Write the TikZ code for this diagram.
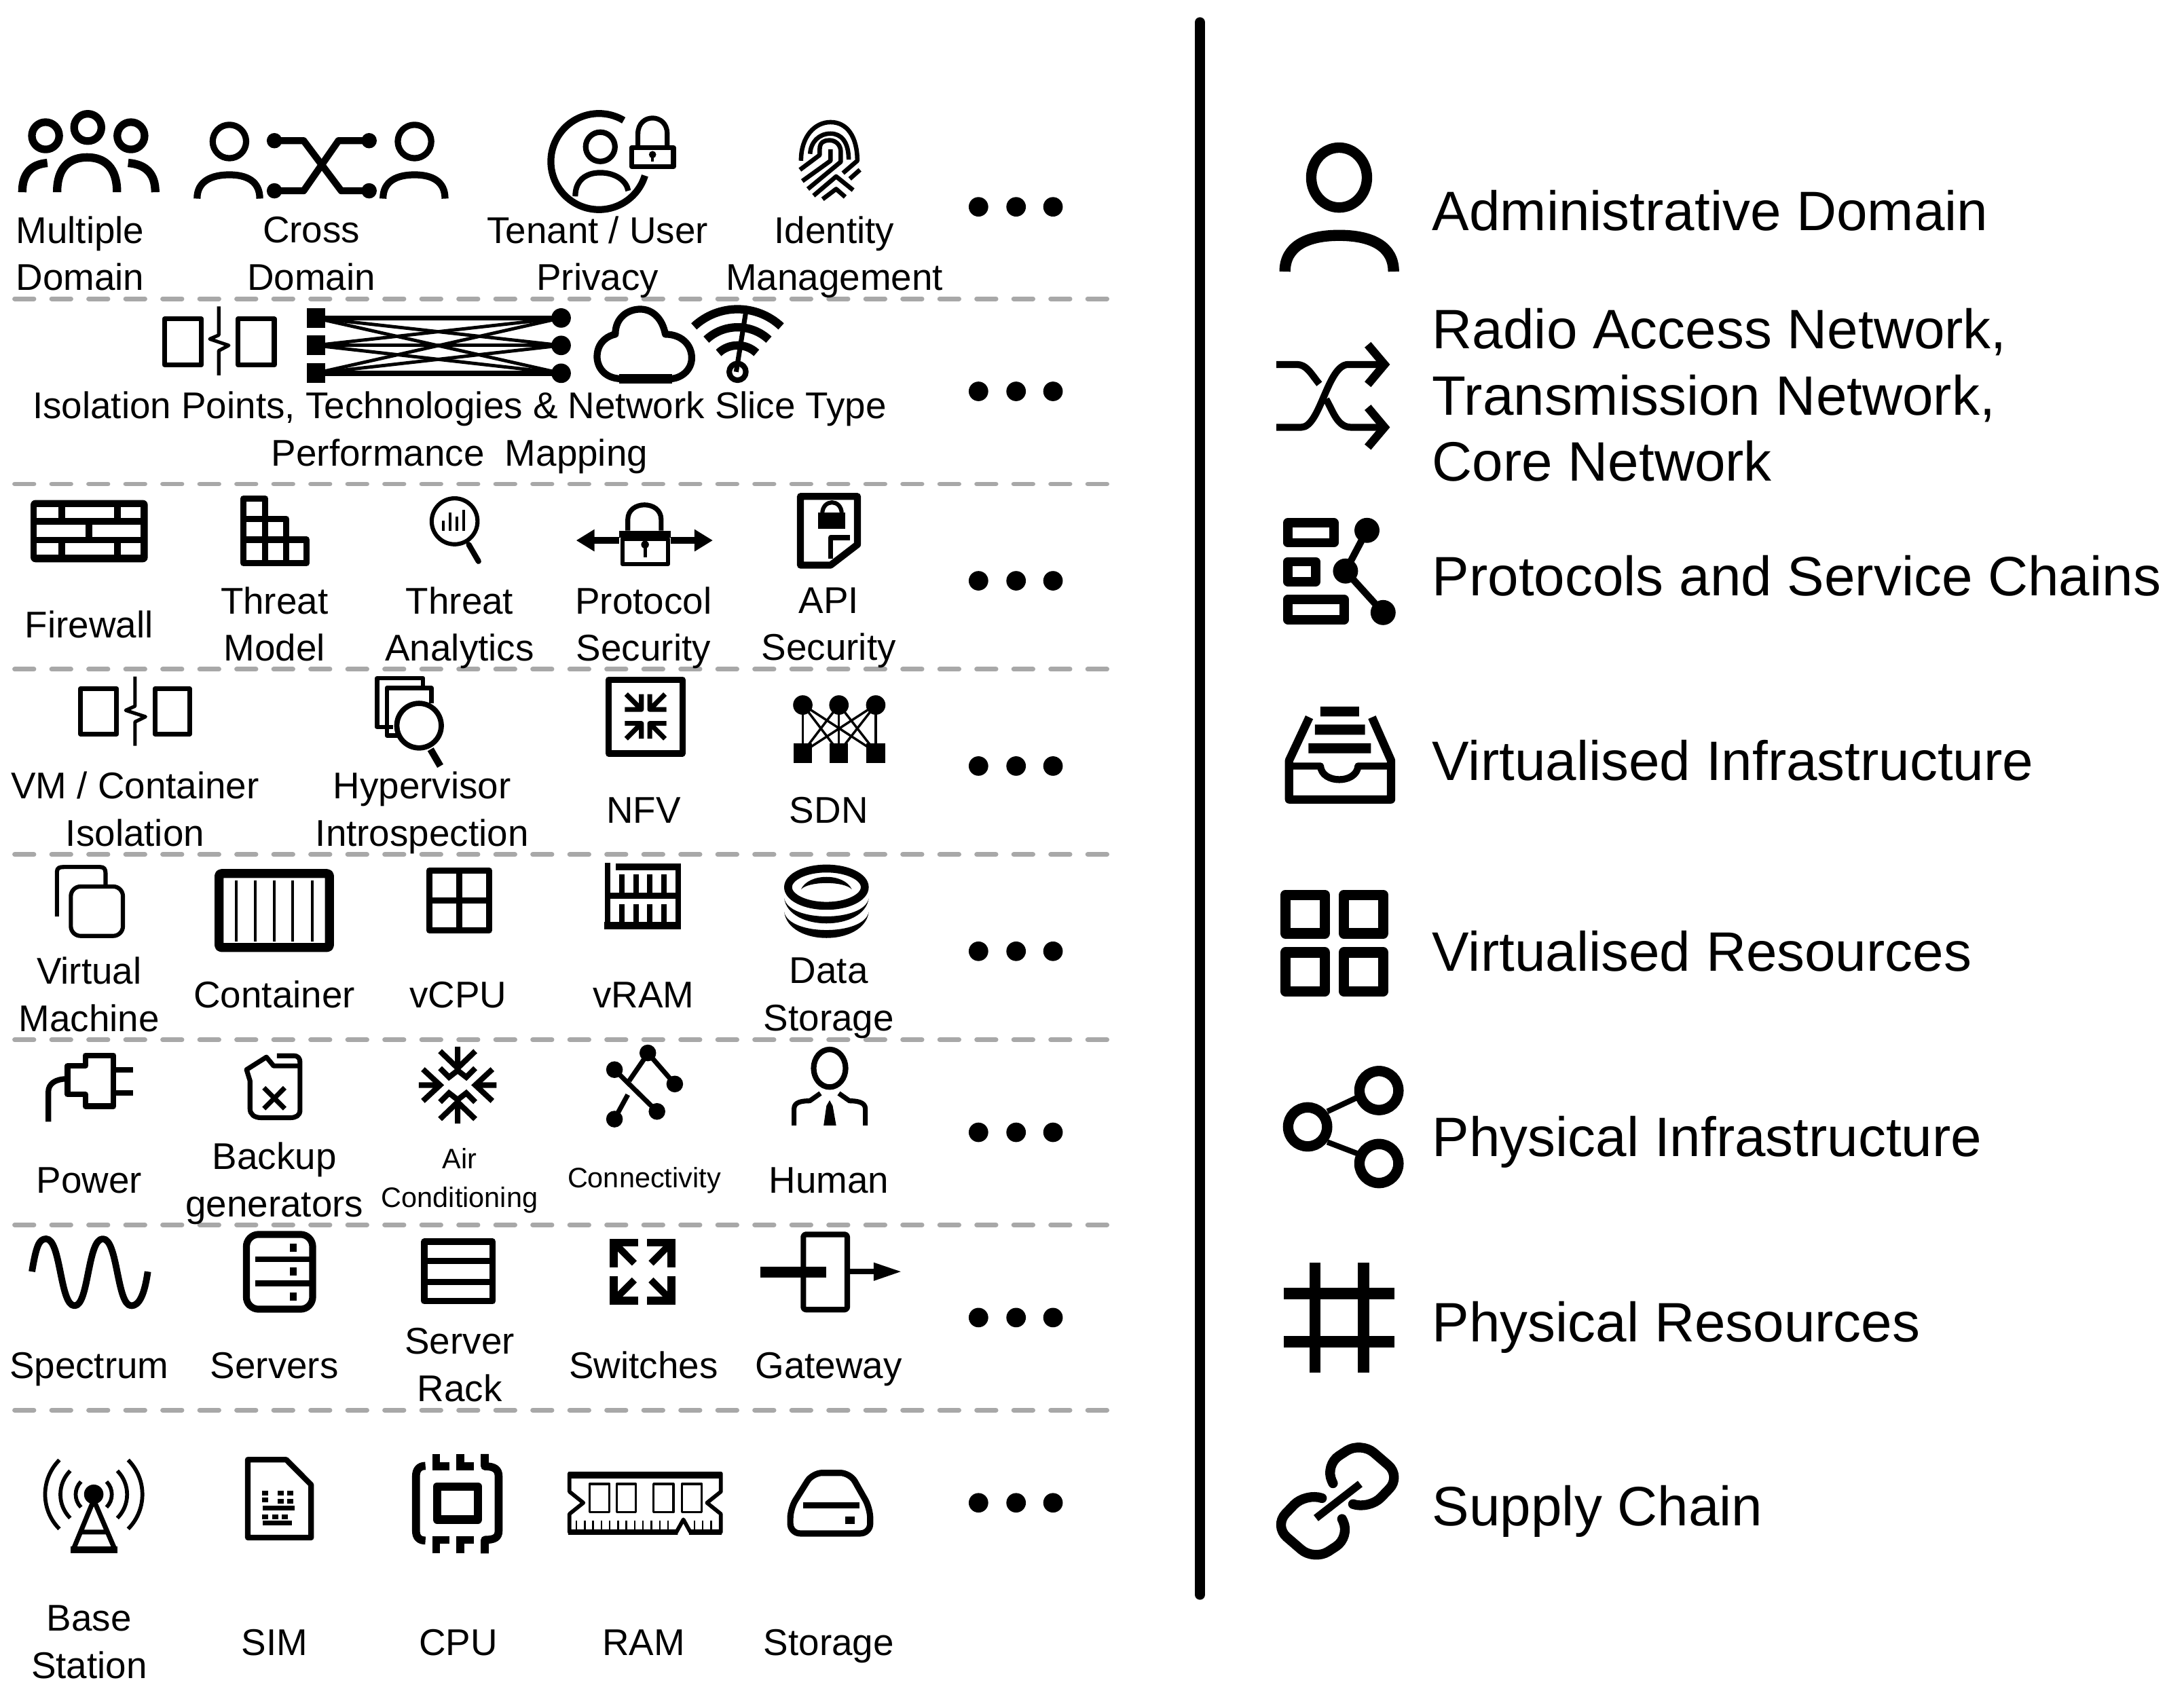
\documentclass[tikz,border=0pt]{standalone}
\usepackage{fontspec}
\setmainfont{Liberation Sans}
\tikzset{
  ink/.style={line width=#1*0.5669pt},
  lab/.style={font=\fontsize{15.2}{19.3}\selectfont,align=center,inner sep=0pt,yshift=-1.7pt,
              execute at begin node=\strut,execute at end node=\strut},
  smalllab/.style={lab,font=\fontsize{11.5}{15.9}\selectfont},
  biglab/.style={font=\fontsize{22.7}{27}\selectfont,align=left,anchor=west,inner sep=0pt,yshift=-2.83pt,
              execute at begin node=\strut,execute at end node=\strut},
  sep/.style={draw=black!34,line width=1.9pt,line cap=round,dash pattern=on 7.9pt off 7.22pt},
}
\begin{document}
\begin{tikzpicture}[x=0.02cm,y=-0.02cm,line join=round]
\useasboundingbox (0,0) rectangle (1568,1214);

\foreach \y in {214.5,347.5,480.5,613.5,746.5,879.5,1012.5}
  \draw[sep] (10.5,\y) -- (798,\y);
\foreach \y in {148.5,281,417,550,683,813,946,1079}
  \foreach \x in {702.5,729.5,756}
    \fill (\x,\y) circle[radius=7];
\draw[ink=7.3,line cap=round] (861.5,16) -- (861.5,1145);

% labels
\node[lab] (multi) at (57.5,184) {Multiple\\Domain};
\node[lab] (cross) at (223.5,184) {Cross\\Domain};
\node[lab] (tenant) at (429,184) {Tenant / User\\Privacy};
\node[lab] (identity) at (599,184) {Identity\\Management};
\node[lab] (slice) at (330,310) {Isolation Points, Technologies \& Network Slice Type\\Performance\ \ Mapping};
\node[lab] (firewall) at (64,448) {Firewall};
\node[lab] (tmodel) at (197,450) {Threat\\Model};
\node[lab] (tanalytics) at (330,450) {Threat\\Analytics};
\node[lab] (protsec) at (462,450) {Protocol\\Security};
\node[lab] (apisec) at (595,450) {API\\Security};
\node[lab] (vmiso) at (97,583) {VM / Container\\Isolation};
\node[lab] (hyper) at (303,583) {Hypervisor\\Introspection};
\node[lab] (nfv) at (462,581) {NFV};
\node[lab] (sdn) at (595,581) {SDN};
\node[lab] (vm) at (64,716) {Virtual\\Machine};
\node[lab] (contain) at (197,714) {Container};
\node[lab] (vcpu) at (329,714) {vCPU};
\node[lab] (vram) at (462,714) {vRAM};
\node[lab] (datastore) at (595,716) {Data\\Storage};
\node[lab] (power) at (64,847) {Power};
\node[lab] (backup) at (197,849) {Backup\\generators};
\node[smalllab] (air) at (330,847) {Air\\Conditioning};
\node[smalllab] (conn) at (462.5,844) {Connectivity};
\node[lab] (human) at (595,847) {Human};
\node[lab] (spectrum) at (64,980) {Spectrum};
\node[lab] (servers) at (197,980) {Servers};
\node[lab] (rack) at (330,982) {Server\\Rack};
\node[lab] (switches) at (462,980) {Switches};
\node[lab] (gateway) at (595,980) {Gateway};
\node[lab] (base) at (64,1181) {Base\\Station};
\node[lab] (sim) at (197,1179) {SIM};
\node[lab] (cpu) at (329,1179) {CPU};
\node[lab] (ram) at (462,1179) {RAM};
\node[lab] (storage) at (595,1179) {Storage};

\node[biglab] (admin) at (1028,151) {Administrative Domain};
\node[biglab] (ran) at (1028,285.5) {Radio Access Network,\\Transmission Network,\\Core Network};
\node[biglab] (chains) at (1028,413) {Protocols and Service Chains};
\node[biglab] (vinfra) at (1028,546) {Virtualised Infrastructure};
\node[biglab] (vres) at (1028,683) {Virtualised Resources};
\node[biglab] (pinfra) at (1028,816) {Physical Infrastructure};
\node[biglab] (pres) at (1028,949) {Physical Resources};
\node[biglab] (supply) at (1028,1081) {Supply Chain};

% row 1
\draw[ink=5.5] (63,91.5) circle[radius=9.8] (32.7,97.5) circle[radius=9.8] (94,97.5) circle[radius=9.8];
\draw[ink=6] (41,138) .. controls (41,120) and (50,113) .. (62.5,113) .. controls (75,113) and (84,120) .. (84,138);
\draw[ink=6] (16,138) .. controls (16,125) and (22,118) .. (34,117);
\draw[ink=6] (111.5,138) .. controls (111.5,125) and (105,118) .. (92,117);

\draw[ink=4.5] (164.7,101.6) circle[radius=12] (297.6,101.6) circle[radius=12];
\draw[ink=5] (141.5,142.6) .. controls (141.5,130) and (152,125.5) .. (164.7,125.5) .. controls (177,125.5) and (186.5,130) .. (186.5,142.6);
\draw[ink=5] (275,142.6) .. controls (275,130) and (285,125.5) .. (297.6,125.5) .. controls (310,125.5) and (319.5,130) .. (319.5,142.6);
\draw[ink=5] (197,101) -- (218,101) -- (245,137) -- (265,137);
\draw[ink=5] (265,101) -- (243,101) -- (218,137) -- (197,137);
\foreach \x/\y in {197/101,265/101,197/137,265/137}
  \fill (\x,\y) circle[radius=5.5];

\draw[ink=5] ([shift={(-59:34.5)}]430,116) arc[start angle=-59,end angle=-343,radius=34.5];
\draw[ink=4] (431,105.4) circle[radius=10.5];
\draw[ink=4] (413,141) .. controls (413,130) and (420,124) .. (431,124) .. controls (442,124) and (450,130) .. (451,137);
\draw[ink=3.5] (453.5,106) rectangle (483.5,119.5);
\draw[ink=3.5] (458,106) -- (458,96) .. controls (458,81) and (479,81) .. (479,96) -- (479,106);
\fill (468.5,111) circle[radius=2.6];
\draw[ink=2] (468.5,111) -- (468.5,116);

\begin{scope}[ink=3.2]
  \draw (575.1,115.4) .. controls (575,98) and (585,87.7) .. (596.3,87.7) .. controls (608,87.7) and (615.5,98) .. (615.5,115.4) -- (605.2,124.3);
  \draw (581.6,110.5) .. controls (582,102) and (588,95.9) .. (596.3,95.9) .. controls (604,95.9) and (609.3,102) .. (609.3,114.6);
  \draw (574.3,121.9) -- (588.5,111.3) -- (588.5,107) .. controls (588.5,102) and (592,100.7) .. (595.4,100.7) .. controls (600,100.7) and (603.6,104) .. (603.6,108.9) -- (603.6,116.2) -- (580,135.7);
  \draw (576,130) -- (596.3,115.4) -- (596.3,107.2);
  \draw (584.1,140.5) -- (600.3,126.7) -- (612.5,136.5);
  \draw (590.6,143) -- (600.3,135.7) -- (606.8,141.4);
  \draw (610.1,128.4) -- (617.4,121.9);
\end{scope}

\begin{scope}[xscale=0.9972]
% row 2
\draw[ink=3.5] (118.5,229) rectangle (145,262);
\draw[ink=3.5] (171.5,229) rectangle (197.5,262);
\draw[ink=2.5] (157.5,220) -- (157.5,240.6) -- (151,243.4) -- (164.7,248) -- (157.5,251.8) -- (157.5,269.5);

\foreach \a in {228.3,248,268}{
  \foreach \b in {228.3,248,268}
    \draw[ink=2.4] (227,\a) -- (404,\b);
  \fill (221,\a-7) rectangle (234,\a+7);
  \fill (404,\a) circle[radius=7];
}
\draw[ink=3.6] (227,228.3) -- (404,228.3) (227,268) -- (404,268);

\draw[ink=5] (448,272) .. controls (434,272) and (429,262) .. (430,254) .. controls (431,245) and (438,241) .. (443,240)
  .. controls (443,228) and (452,222) .. (461,222) .. controls (470,222) and (477,229) .. (479,240)
  .. controls (490,240) and (498,247) .. (498,257) .. controls (498,266) and (490,272) .. (482,272) -- cycle;
\draw[ink=7] (446,272) -- (484,272);
\foreach \r in {46,33,20}
  \draw[ink=6] ([shift={(-133:\r)}]531,268) arc[start angle=-133,end angle=-47,radius=\r];
\draw[ink=4] (531,267) circle[radius=6];
\draw[ink=3.5] (530,267) -- (537,224);

% row 3
\fill[rounded corners=2] (22,359) rectangle (106.4,403.7);
\foreach \a/\b/\c/\d in {26.6/364/42/372,47/364/82/372,87/364/101.3/372,26.6/377/61.4/385.4,66.5/377/101.3/385.4,26.6/390/42/398,47/390/82/398,87/390/101.3/398}
  \fill[white] (\a,\b) rectangle (\c,\d);

\draw[ink=4.5] (175.2,358) rectangle (191,404.2) (191,372.5) rectangle (206,404.2) (206,387.5) rectangle (220.8,404.2);
\draw[ink=4.5] (175.2,372.5) -- (191,372.5) (175.2,387.5) -- (220.8,387.5);

\draw[ink=3] (327.3,374.3) circle[radius=16.5];
\draw[ink=4,line cap=round] (337.5,391) -- (344.5,403);
\draw[ink=2] (319,381) -- (319,374) (324,381) -- (324,368) (329,381) -- (329,371) (334,381) -- (334,366);

\draw[ink=3] (448,387) rectangle (481,405);
\fill (446,381) rectangle (483,386);
\draw[ink=3.5] (452,381) -- (452,373) .. controls (452,359) and (476,359) .. (476,373) -- (476,381);
\fill (464.4,391) circle[radius=2.8];
\draw[ink=2.4] (464.4,391) -- (464.4,400);
\draw[ink=5] (420,388) -- (446,388) (483,388) -- (508,388);
\fill (415,388) -- (428,380) -- (428,396) -- cycle (513,388) -- (500,380) -- (500,396) -- cycle;

\draw[ink=5] (576.3,356.4) -- (617.3,356.4) -- (617.3,391) -- (598,405.8) -- (576.3,405.8) -- cycle;
\fill (589,368) rectangle (608.6,379.5);
\draw[ink=3] (592,369) .. controls (592,358) and (606,358) .. (606,369);
\draw[ink=3.5] (598,401) -- (598,386) -- (612,386);

% row 4
\draw[ink=3.5] (58,494.5) rectangle (84,527);
\draw[ink=3.5] (111.5,494.5) rectangle (136.5,527);
\draw[ink=2.5] (97.2,485.7) -- (97.2,507) -- (90.5,510) -- (104.8,514.6) -- (97.2,518.3) -- (97.2,535.5);

\draw[ink=3.2] (283,522) -- (271.5,522) -- (271.5,487) -- (304.5,487) -- (304.5,493);
\draw[ink=3.2] (286,528) -- (278.5,528) -- (278.5,494) -- (310.5,494) -- (310.5,505);
\draw[ink=3.8] (301.7,521) circle[radius=16];
\draw[ink=5] (310,538) -- (317,550);

\draw[ink=4.5] (438.2,488) rectangle (491.3,541);
\foreach \a/\b in {1/1,1/-1,-1/1,-1/-1}{
  \begin{scope}[shift={(464.8,514.4)},xscale=\a,yscale=\b]
    \draw[ink=3.5] (15,5) -- (3,5) -- (3,16) (3,5) -- (14,16);
  \end{scope}
}

\foreach \a in {578,604,630.5}{
  \foreach \b in {578,604,630.5}
    \draw[ink=1.7] (\a,506) -- (\b,540);
  \fill (\a,506.2) circle[radius=7];
  \fill (\a-6.7,533.9) rectangle (\a+6.7,547.6);
}

% row 5
\draw[ink=3] (41,658) -- (41,626) .. controls (41,623) and (43,622.5) .. (46,622.5) -- (72,622.5) .. controls (75,622.5) and (76,624) .. (76,627) -- (76,635);
\draw[ink=3,rounded corners=4] (51,636.5) rectangle (88.5,672);

\draw[ink=6.5,rounded corners=1] (157.7,627.2) rectangle (237.2,680.3);
\foreach \x in {170.3,184,197.4,210.7,225}
  \draw[ink=2] (\x,632) -- (\x,676);

\draw[ink=4.5] (309,625) rectangle (352,668);
\draw[ink=4.5] (330.5,625) -- (330.5,668) (309,646.5) -- (352,646.5);

\draw[ink=4.1] (437.4,619.4) -- (437.4,667) (488.2,621) -- (488.2,667);
\draw[ink=5] (443.5,622.3) -- (490.3,622.3) (435.1,664.6) -- (490.3,664.6);
\draw[ink=4] (437.4,643.1) -- (488.2,643.1);
\foreach \x in {447.6,457.8,467.9,478.1}
  \draw[ink=4] (\x,628) -- (\x,643) (\x,649) -- (\x,663);

\draw[ink=5.7] (595,637) ellipse[x radius=27.6,y radius=13.4];
\fill (576.7,638.6) .. controls (582,626.6) and (608,626.6) .. (613.3,638.6) .. controls (608,632.5) and (582,632.5) .. (576.7,638.6) -- cycle;
\fill (564.6,645) .. controls (568,662.3) and (622,662.3) .. (625.5,645) .. controls (622,669) and (568,669) .. (564.6,645) -- cycle;
\fill (564.6,654.8) .. controls (568,672.1) and (622,672.1) .. (625.5,654.8) .. controls (622,679.7) and (568,679.7) .. (564.6,654.8) -- cycle;

% row 6
\draw[ink=4] (34.8,805.4) -- (34.8,784) .. controls (34.8,778) and (40,774.6) .. (48.6,774.6);
\draw[ink=4] (81.8,757.8) -- (61.4,757.8) -- (61.4,765.3) -- (48.6,765.3) -- (48.6,785.8) -- (61.4,785.8) -- (61.4,794.2) -- (81.8,794.2) -- cycle;
\draw[ink=4] (81.8,768) -- (96,768) (81.8,784.9) -- (96,784.9);

\draw[ink=3.5] (199.4,758) -- (211,758) .. controls (215,758) and (216,760) .. (216,763) -- (216,797) .. controls (216,801) and (213,802.5) .. (209,802.5)
  -- (188,802.5) .. controls (183,802.5) and (180,800) .. (180,796) -- (180,776) -- (177.5,768) -- (191.8,759) -- (197,765.3) -- (216,765.3);
\draw[ink=3.5] (190,781) -- (205,796) (205,781) -- (190,796);

\foreach \a in {1,-1}{
  \begin{scope}[shift={(329.5,779.1)},yscale=\a,xscale=\a,line join=miter]
    \draw[ink=4] (0,-27.6) -- (0,-9) (-12.7,-24.4) -- (0,-12.2) -- (12.7,-24.4);
    \draw[ink=4] (-12.7,-12.2) -- (-6.2,-5.7) -- (0,-10.5) -- (6.2,-5.7) -- (12.7,-12.2);
    \draw[ink=4] (-28,0) -- (-12,0) (-25,-11.4) -- (-12.7,0) -- (-25,11.4);
  \end{scope}
}

\draw[ink=3.5] (466.4,756) -- (485.8,778.3) (442.4,768) -- (473,798);
\draw[ink=3.5] (464,760) -- (453,776) (442.4,803.5) -- (452,786);
\foreach \x/\y in {466.4/756,442.4/768,485.8/778.3,473/798,442.4/803.5}
  \fill (\x,\y) circle[radius=6];

\draw[ink=4] (597.3,767) ellipse[x radius=11.5,y radius=13.5];
\draw[ink=3.5] (571.7,808) -- (571.7,796) .. controls (571.7,791) and (578,790.4) .. (583,790.4) -- (590.7,785);
\draw[ink=3.5] (623,808) -- (623,796) .. controls (623,791) and (616,790.4) .. (611.6,790.4) -- (603.9,785);
\fill (597.3,790) -- (599.5,794) -- (602,808) -- (593,808) -- (595,794) -- cycle;

% row 7
\draw[ink=4.8] (23,913) .. controls (26,895) and (28,889.5) .. (33.2,889.5) .. controls (44,889.5) and (43,937.5) .. (53.7,937.5)
  .. controls (64,937.5) and (63,889.5) .. (74,889.5) .. controls (85,889.5) and (84,937.5) .. (94.6,937.5) .. controls (100,937.5) and (104,930) .. (106.4,913);

\draw[ink=5,rounded corners=5] (177.4,886.3) rectangle (225.1,940);
\draw[ink=4] (184,904.3) -- (227,904.3) (184,921.4) -- (227,921.4);
\foreach \y in {895.7,912.8,931}
  \fill (208.7,\y-3) rectangle (213.7,\y+3);

\draw[ink=4.5] (305.5,891.5) rectangle (354.8,934.2);
\draw[ink=4.5] (305.5,905.3) -- (354.8,905.3) (305.5,920.5) -- (354.8,920.5);

\foreach \a/\b in {1/1,1/-1,-1/1,-1/-1}{
  \begin{scope}[shift={(462.7,913)},xscale=\a,yscale=\b,line join=miter]
    \draw[ink=5.7] (3.2,20.8) -- (20.8,20.8) -- (20.8,3.2);
    \draw[ink=5] (6,6) -- (19,19);
  \end{scope}
}

\draw[ink=4,rounded corners=1] (578.4,886.3) rectangle (610,940.3);
\fill (547.2,909.6) rectangle (594.8,917.1);
\draw[ink=4] (612,913) -- (630,913);
\fill (648.5,913) -- (629,906.4) -- (629,919.7) -- cycle;

% row 8
\foreach \r in {35,24,13}{
  \draw[ink=2.8] ([shift={(135:\r)}]67.5,1073) arc[start angle=135,end angle=225,radius=\r];
  \draw[ink=2.8] ([shift={(-45:\r)}]67.5,1073) arc[start angle=-45,end angle=45,radius=\r];
}
\fill (67.5,1072.9) circle[radius=7];
\draw[ink=3.5] (67.5,1077) -- (53,1112) (67.5,1077) -- (82.5,1112) (58,1100) -- (77,1100);
\fill (51,1110.5) rectangle (84.4,1115.4);

\draw[ink=4] (178.4,1048) -- (206,1048) -- (224,1066) -- (224,1104) -- (178.4,1104) -- cycle;
\foreach \a/\b in {202/1072,209/1072,202/1078,209/1078,191/1072,191/1077,191/1089,198/1089,205/1089}
  \fill (\a-2.2,\b-1.8) rectangle (\a+2.2,\b+1.8);
\fill (189,1081) rectangle (212,1084.5);
\fill (189,1092) rectangle (210,1095);

\draw[ink=5.7] (306.3,1052.5) .. controls (302,1052.5) and (299.5,1055) .. (299.5,1060) -- (299.5,1099) .. controls (299.5,1104) and (302,1106.1) .. (306.3,1106.1);
\draw[ink=5.7] (349,1043.9) -- (349,1052.8) .. controls (356,1052.8) and (359,1055) .. (359,1060) -- (359,1099) .. controls (359,1104) and (356,1105.6) .. (349,1105.6) -- (349,1115.4);
\draw[ink=5.7,line join=miter] (314.1,1043.9) -- (314.1,1052.8) -- (323.7,1052.8) (331.5,1043.9) -- (331.5,1052.8) -- (341.2,1052.8);
\draw[ink=5.7,line join=miter] (314.1,1115.4) -- (314.1,1105.6) -- (323.7,1105.6) (331.5,1115.4) -- (331.5,1105.6) -- (341.2,1105.6);
\draw[ink=6] (314.6,1067.3) rectangle (344.1,1091);

\draw[ink=2.8] (410,1058) -- (519,1058) -- (519,1071) -- (509,1079) -- (519,1087) -- (519,1100) -- (497,1100) -- (492,1091) -- (487,1100)
  -- (410,1100) -- (410,1087) -- (420,1079) -- (410,1071) -- cycle;
\fill (409,1056.8) rectangle (519.5,1061.7);
\fill (409,1098) rectangle (488,1102) (496,1098) rectangle (519.5,1102);
\foreach \a/\b in {424.5/438.8,444/457.7,470.5/484.8,491/505.3}
  \draw[ink=1.6] (\a,1065.4) rectangle (\b,1085.8);
\foreach \x in {415,421,...,486}
  \draw[ink=1.2] (\x,1092) -- (\x,1098);
\foreach \x in {500,506,512}
  \draw[ink=1.2] (\x,1092) -- (\x,1098);

\draw[ink=4.5,rounded corners=4] (569,1101) -- (569,1083) -- (585,1057.5) -- (612,1057.5) -- (626.5,1083) -- (626.5,1101) -- cycle;
\draw[ink=4.5] (578,1081) -- (619,1081);
\fill (608.6,1089) rectangle (615.2,1094.4);
\end{scope}

% right column
\draw[ink=7.5] (961.4,127.5) ellipse[x radius=20,y radius=21.5];
\draw[ink=8] (922.5,195) .. controls (922.5,177) and (938,169) .. (961.4,169) .. controls (985,169) and (1000.5,177) .. (1000.5,195);

\draw[ink=5] (916.4,261.7) -- (931,261.7) .. controls (938,261.7) and (941,268) .. (947.2,275.7);
\draw[ink=5] (916.4,306.8) -- (934.2,306.8) .. controls (948,306.8) and (953,261.7) .. (968,261.7) -- (995,261.7);
\draw[ink=5] (952,286.6) .. controls (957,295) and (960,306.8) .. (970,306.8) -- (995,306.8);
\draw[ink=6,line join=miter] (982,247.5) -- (994,261.7) -- (982,276) (982,292.5) -- (994,306.8) -- (982,321);

\draw[ink=6.6] (924.5,375.3) rectangle (957.7,389.6) (924.5,403.3) rectangle (944.7,417.6) (924.5,430.3) rectangle (965.1,444.9);
\draw[ink=5] (981.4,380.8) -- (966,410) -- (993,439.8);
\fill (981.4,380.8) circle[radius=9] (966,410) circle[radius=9] (993,439.8) circle[radius=9];

\fill (948,507.3) rectangle (975.7,514.4) (944,520.3) rectangle (980,527.5) (939.4,533.7) rectangle (984.3,540.8);
\draw[ink=6] (940,515) -- (925.5,546) -- (925.5,574) -- (998.7,574) -- (998.7,546) -- (985,515);
\draw[ink=5] (925.5,550) -- (948,550) .. controls (949,563) and (974,563) .. (975,550) -- (998.7,550);

\draw[ink=7.5] (922.9,642.5) rectangle (951.1,670.2) (964.8,642.5) rectangle (993,670.2) (922.9,683.8) rectangle (951.1,711.7) (964.8,683.8) rectangle (993,711.7);

\draw[ink=7.5] (938.8,809.1) circle[radius=14] (990,783) circle[radius=14] (990,835.4) circle[radius=14];
\draw[ink=4] (953,798) -- (976.5,787) (953,820) -- (976.5,829);

\draw[ink=8.1] (944,906.6) -- (944,985.7) (978.9,906.6) -- (978.9,985.7);
\draw[ink=8.2] (921.6,928.7) -- (1001.2,928.7) (921.6,963.3) -- (1001.2,963.3);

\draw[ink=7,rounded corners=7,line cap=round] (957,1065) -- (951,1052) -- (977,1035) -- (1006,1060) -- (983,1084) -- (971.6,1080);
\draw[ink=7,rounded corners=7,line cap=round] (963.5,1090.6) -- (969.5,1103.6) -- (943.5,1120.6) -- (914.5,1095.6) -- (937.5,1071.6) -- (948.9,1075.6);
\draw[ink=5.5] (944.8,1090) -- (976.5,1065.4);
\end{tikzpicture}
\end{document}
